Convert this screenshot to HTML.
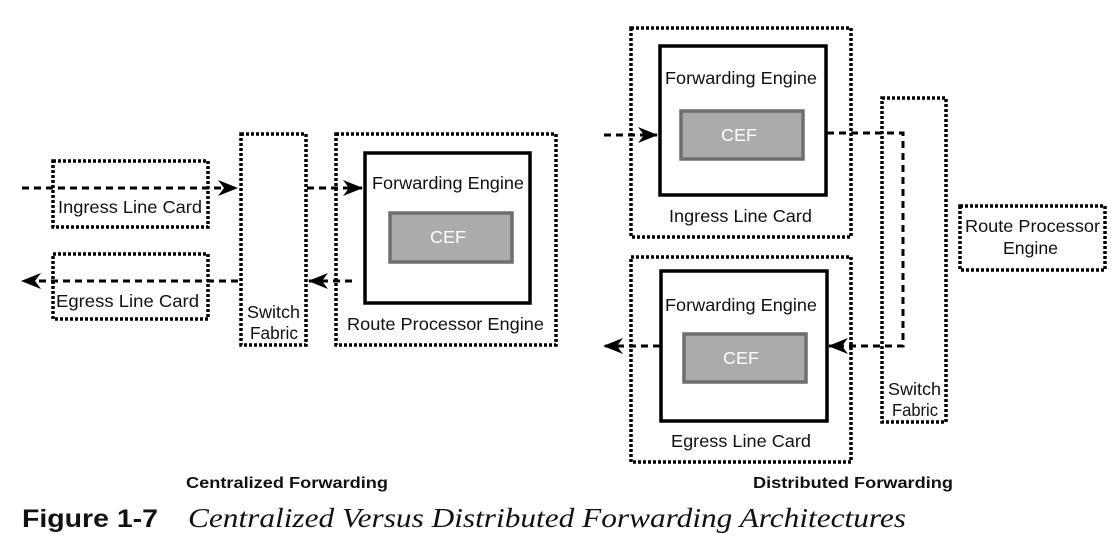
<!DOCTYPE html>
<html><head><meta charset="utf-8"><style>
html,body{margin:0;padding:0;background:#fff;}
svg{display:block;}
text{font-family:"Liberation Sans",sans-serif;fill:#111;}
</style></head><body>
<svg width="1117" height="553" viewBox="0 0 1117 553" xmlns="http://www.w3.org/2000/svg">
<defs>
<marker id="ah" markerWidth="20" markerHeight="16" refX="19" refY="8" orient="auto" markerUnits="userSpaceOnUse">
<path d="M0,0 L20,8 L0,16 L6,8 Z" fill="#000"/>
</marker>
</defs>
<g fill="none" stroke="#000" stroke-width="3.5" stroke-dasharray="3,2">
<rect x="53" y="161" width="155" height="66"/>
<rect x="53" y="254" width="155" height="65"/>
<rect x="241" y="134" width="65" height="211"/>
<rect x="336" y="134" width="220" height="211"/>
<rect x="631" y="28" width="220" height="209"/>
<rect x="631" y="257" width="220" height="205"/>
<rect x="882" y="98" width="64" height="324"/>
<rect x="960" y="206" width="145" height="64"/>
</g>
<g fill="#fff" stroke="#000" stroke-width="3.5">
<rect x="365" y="153" width="165" height="150"/>
<rect x="660" y="46" width="166" height="149"/>
<rect x="661" y="271" width="166" height="150"/>
</g>
<g fill="#ababab" stroke="#6e6e6e" stroke-width="3.5">
<rect x="390" y="213" width="122" height="49"/>
<rect x="681" y="111" width="122" height="48"/>
<rect x="684" y="334" width="122" height="48"/>
</g>
<g fill="none" stroke="#000" stroke-width="3" stroke-dasharray="7,5">
<path d="M22,188 H237" marker-end="url(#ah)"/>
<path d="M307,188 H362" marker-end="url(#ah)"/>
<path d="M352,281 H309" marker-end="url(#ah)"/>
<path d="M238,281 H22" marker-end="url(#ah)"/>
<path d="M604,135 H657" marker-end="url(#ah)"/>
<path d="M827,133 H903 V346 H829" marker-end="url(#ah)"/>
<path d="M660,346 H604" marker-end="url(#ah)"/>
</g>
<g font-size="17.5">
<text x="58" y="213" textLength="144" lengthAdjust="spacingAndGlyphs">Ingress Line Card</text>
<text x="56" y="307" textLength="143" lengthAdjust="spacingAndGlyphs">Egress Line Card</text>
<text x="247" y="318" textLength="53" lengthAdjust="spacingAndGlyphs">Switch</text>
<text x="250" y="339" textLength="48" lengthAdjust="spacingAndGlyphs">Fabric</text>
<text x="372" y="189" textLength="152" lengthAdjust="spacingAndGlyphs">Forwarding Engine</text>
<text x="430" y="243" textLength="36" lengthAdjust="spacingAndGlyphs" style="fill:#fff">CEF</text>
<text x="347" y="330" textLength="197" lengthAdjust="spacingAndGlyphs">Route Processor Engine</text>
<text x="665" y="84" textLength="152" lengthAdjust="spacingAndGlyphs">Forwarding Engine</text>
<text x="721" y="141" textLength="36" lengthAdjust="spacingAndGlyphs" style="fill:#fff">CEF</text>
<text x="669" y="222" textLength="143" lengthAdjust="spacingAndGlyphs">Ingress Line Card</text>
<text x="665" y="311" textLength="152" lengthAdjust="spacingAndGlyphs">Forwarding Engine</text>
<text x="723" y="364" textLength="36" lengthAdjust="spacingAndGlyphs" style="fill:#fff">CEF</text>
<text x="671" y="447" textLength="140" lengthAdjust="spacingAndGlyphs">Egress Line Card</text>
<text x="888" y="395" textLength="53" lengthAdjust="spacingAndGlyphs">Switch</text>
<text x="892" y="416" textLength="46" lengthAdjust="spacingAndGlyphs">Fabric</text>
<text x="965" y="232" textLength="135" lengthAdjust="spacingAndGlyphs">Route Processor</text>
<text x="1003" y="254" textLength="55" lengthAdjust="spacingAndGlyphs">Engine</text>
</g>
<text x="186" y="488" font-size="16" font-weight="bold" textLength="202" lengthAdjust="spacingAndGlyphs">Centralized Forwarding</text>
<text x="753" y="488" font-size="16" font-weight="bold" textLength="200" lengthAdjust="spacingAndGlyphs">Distributed Forwarding</text>
<text x="22" y="527" font-size="25" font-weight="bold" textLength="136" lengthAdjust="spacingAndGlyphs">Figure 1-7</text>
<text x="188" y="527" font-size="27" font-style="italic" textLength="718" lengthAdjust="spacingAndGlyphs" style="font-family:'Liberation Serif',serif">Centralized Versus Distributed Forwarding Architectures</text>
</svg>
</body></html>
